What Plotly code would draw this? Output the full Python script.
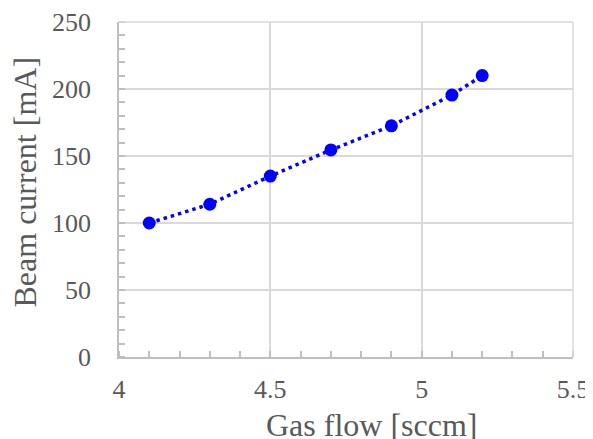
import plotly.graph_objects as go

gas_flow = [4.1, 4.3, 4.5, 4.7, 4.9, 5.1, 5.2]
beam_current = [100, 114, 135, 154.5, 172.5, 195.5, 210]

x_ticks = [4, 4.5, 5, 5.5]
x_tick_labels = ["4", "4.5", "5", "5.5"]
y_ticks = [0, 50, 100, 150, 200, 250]
y_tick_labels = ["0", "50", "100", "150", "200", "250"]

FONT = "Liberation Serif, Times New Roman, serif"
TXT = "#595959"
GRID = "#d9d9d9"
AXIS = "#bfbfbf"

fig = go.Figure()
fig.add_trace(go.Scatter(
    x=gas_flow, y=beam_current, mode="lines+markers",
    line=dict(color="#0000ff", width=3.5, dash="3.5px,4px"),
    marker=dict(color="#0000ff", size=13),
    showlegend=False,
))

# page body has an 8px margin; figure sized to fit inside the window
fig.update_layout(
    width=585, height=431,
    margin=dict(l=111, r=20, t=14, b=82, autoexpand=False),
    paper_bgcolor="white", plot_bgcolor="white",
    font=dict(family=FONT, color=TXT, size=26),
    xaxis=dict(
        range=[4, 5.5], tickvals=x_ticks, ticktext=x_tick_labels,
        showgrid=True, gridcolor=GRID, gridwidth=1.5,
        showline=True, linecolor=AXIS, linewidth=1.5,
        ticks="", ticklabelstandoff=8, zeroline=False, automargin=False,
        ticklabeloverflow="allow",
        tickfont=dict(family=FONT, color=TXT, size=26),
        minor=dict(dtick=0.1, ticks="inside", ticklen=6, tickcolor=AXIS, tickwidth=1.5, showgrid=False),
    ),
    yaxis=dict(
        range=[0, 250], tickvals=y_ticks, ticktext=y_tick_labels,
        showgrid=True, gridcolor=GRID, gridwidth=1.5,
        showline=True, linecolor=AXIS, linewidth=1.5,
        ticks="", ticklabelstandoff=21, zeroline=False, automargin=False,
        ticklabeloverflow="allow",
        tickfont=dict(family=FONT, color=TXT, size=26),
        minor=dict(dtick=10, ticks="inside", ticklen=6, tickcolor=AXIS, tickwidth=1.5, showgrid=False),
    ),
    annotations=[
        dict(text="Gas flow [sccm]", xref="paper", yref="paper",
             x=0.557, y=-0.203, xanchor="center", yanchor="middle",
             showarrow=False, font=dict(family=FONT, color=TXT, size=32)),
        dict(text="Beam current [mA]", xref="paper", yref="paper",
             x=-0.207, y=0.521, xanchor="center", yanchor="middle",
             textangle=-90, showarrow=False, font=dict(family=FONT, color=TXT, size=32)),
    ],
)
fig.add_shape(type="line", xref="paper", yref="paper", x0=0, x1=1, y0=1, y1=1,
              line=dict(color=GRID, width=1.5))
fig.add_shape(type="line", xref="paper", yref="paper", x0=1, x1=1, y0=0, y1=1,
              line=dict(color=GRID, width=1.5))

fig.write_html("out.html")
